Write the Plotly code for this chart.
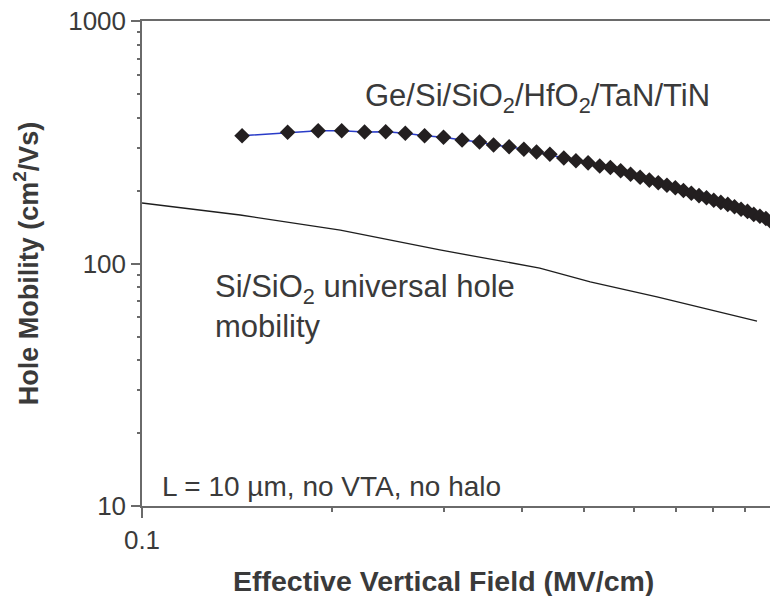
import plotly.graph_objects as go

# ---- data ----
ge_field = [0.144, 0.170, 0.190, 0.207, 0.225, 0.243, 0.261, 0.280, 0.300, 0.321,
            0.342, 0.360, 0.381, 0.402, 0.421, 0.442, 0.465, 0.486, 0.508, 0.530,
            0.551, 0.572, 0.593, 0.614, 0.635, 0.656, 0.677, 0.698, 0.719, 0.740,
            0.761, 0.782, 0.803, 0.824, 0.845, 0.866, 0.887, 0.908, 0.929, 0.950,
            0.971, 0.992]
ge_mobility = [336.5, 347.5, 352.8, 352.8, 348.5, 349.5, 344.3, 336.5, 331.5, 323.1,
               317.0, 308.2, 303.2, 295.8, 288.4, 282.0, 272.3, 265.4, 260.0, 252.4,
               248.9, 241.4, 233.3, 226.7, 220.8, 215.2, 210.1, 205.2, 200.0, 194.8,
               190.5, 186.6, 182.4, 178.6, 175.3, 171.3, 167.5, 164.0, 159.4, 156.7,
               153.2, 147.6]

univ_field = [0.100, 0.143, 0.206, 0.296, 0.426, 0.512, 0.653, 0.940]
univ_mobility = [177.6, 158.5, 137.4, 113.7, 95.8, 83.9, 72.8, 57.9]

x_major = [0.1, 1]
x_major_text = ["0.1", "1"]
x_minor = [0.2, 0.3, 0.4, 0.5, 0.6, 0.7, 0.8, 0.9]
y_major = [10, 100, 1000]
y_major_text = ["10", "100", "1000"]
y_minor = [20, 30, 40, 50, 60, 70, 80, 90, 200, 300, 400, 500, 600, 700, 800, 900]

FONT = "Arial, Liberation Sans, sans-serif"
TXT = "#3a3a3a"
AX = "#6a6a6a"

fig = go.Figure()
fig.add_trace(go.Scatter(x=univ_field, y=univ_mobility, mode="lines",
                         line=dict(color="#1e1e1e", width=1.3), showlegend=False,
                         hoverinfo="skip"))
fig.add_trace(go.Scatter(x=ge_field, y=ge_mobility, mode="lines+markers",
                         line=dict(color="#2a3cc8", width=1.5),
                         marker=dict(symbol="diamond", size=12, color="#231f20",
                                     line=dict(width=0)),
                         showlegend=False))
# dummy trace for overlay axes (minor ticks)
fig.add_trace(go.Scatter(x=[None], y=[None], xaxis="x2", yaxis="y2",
                         showlegend=False, hoverinfo="skip"))

xr = [-1, -0.0063]
yr = [1, 3]

fig.update_layout(
    width=770, height=596,
    margin=dict(l=142, r=0, t=21, b=90),
    paper_bgcolor="white", plot_bgcolor="white",
    font=dict(family=FONT, color=TXT),
    xaxis=dict(type="log", range=xr, showline=True, linecolor=AX, linewidth=1.5,
               mirror=True, ticks="outside", ticklen=10, tickwidth=1.5, tickcolor=AX,
               tickmode="array", tickvals=x_major, ticktext=x_major_text,
               tickfont=dict(size=26, color=TXT), showgrid=False, zeroline=False),
    yaxis=dict(type="log", range=yr, showline=True, linecolor=AX, linewidth=1.5,
               ticks="outside", ticklen=9, tickwidth=1.5, tickcolor=AX,
               tickmode="array", tickvals=y_major, ticktext=y_major_text,
               tickfont=dict(size=26, color=TXT), showgrid=False, zeroline=False,
               title=dict(text="<b>Hole Mobility (cm<sup>2</sup>/Vs)</b>",
                          font=dict(size=27, color=TXT), standoff=22)),
    xaxis2=dict(type="log", range=xr, overlaying="x", anchor="y2", side="bottom",
                showline=False, ticks="outside", ticklen=5, tickwidth=1.5, tickcolor=AX,
                tickmode="array", tickvals=x_minor, showticklabels=False,
                showgrid=False, zeroline=False),
    yaxis2=dict(type="log", range=yr, overlaying="y", anchor="x2", side="left",
                showline=False, ticks="outside", ticklen=4, tickwidth=1.5, tickcolor=AX,
                tickmode="array", tickvals=y_minor, showticklabels=False,
                showgrid=False, zeroline=False),
)

def px2paper(px, py):
    return (px - 142) / 628.0, (506 - py) / 485.0

annos = [
    ("Ge/Si/SiO<sub>2</sub>/HfO<sub>2</sub>/TaN/TiN", 363, 98, 31),
    ("Si/SiO<sub>2</sub> universal hole<br>mobility", 213, 306, 31),
    ("L = 10 \u00b5m, no VTA, no halo", 160, 486, 28),
]
for text, ax_, ay_, fs in annos:
    xp, yp = px2paper(ax_, ay_)
    fig.add_annotation(text=text, x=xp, y=yp, xref="paper", yref="paper",
                       xanchor="left", yanchor="middle", showarrow=False, align="left",
                       font=dict(size=fs, color=TXT, family=FONT))

# x-axis title (centered where the reference places it)
xp, yp = px2paper(443.5, 581)
fig.add_annotation(text="<b>Effective Vertical Field (MV/cm)</b>", x=xp, y=yp,
                   xref="paper", yref="paper", xanchor="center", yanchor="middle",
                   showarrow=False, font=dict(size=28.5, color=TXT, family=FONT))

fig.write_html("out.html")
